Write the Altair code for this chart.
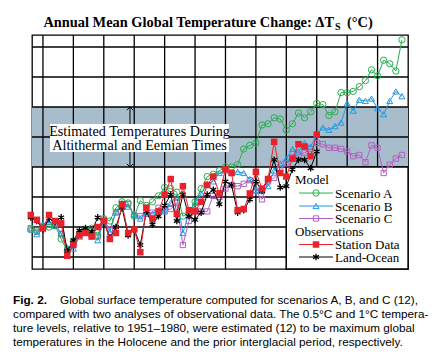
import altair as alt
import pandas as pd

# ---------------- data ----------------
model_years = list(range(1958, 2020))
obs_years = list(range(1958, 2006))

scenario_a = [-0.02, -0.03, 0.00, 0.00, 0.01, -0.10, -0.20, -0.12, -0.05, -0.02, -0.01, -0.07,
              0.07, 0.05, 0.16, 0.21, 0.20, 0.09, 0.22, 0.18, 0.21, 0.26,
              0.33, 0.32, 0.29, 0.09, 0.12, 0.21, 0.32, 0.42, 0.44, 0.47,
              0.50, 0.50, 0.52, 0.65, 0.68, 0.70, 0.85, 0.86, 0.91, 0.90,
              0.81, 0.86, 0.95, 0.91, 0.96, 1.03, 1.02, 0.93, 0.96, 1.12,
              1.12, 1.13, 1.17, 1.22, 1.31, 1.26, 1.39, 1.36, 1.30, 1.56]
scenario_b = [-0.02, -0.06, 0.02, 0.04, 0.01, -0.05, -0.17, -0.18, -0.08, -0.04, -0.06, -0.11,
              0.05, -0.04, 0.13, 0.20, 0.17, 0.11, 0.07, 0.12, 0.11, 0.14,
              0.13, 0.20, 0.25, -0.05, 0.12, 0.20, 0.28, 0.36, 0.38, 0.45,
              0.47, 0.45, 0.46, 0.45, 0.40, 0.31, 0.30, 0.34, 0.47, 0.53,
              0.57, 0.65, 0.63, 0.70, 0.67, 0.77, 0.83, 0.81, 0.84, 0.87,
              1.03, 0.97, 1.06, 1.05, 1.07, 0.99, 0.94, 1.05, 1.13, 1.09]
scenario_c = [-0.01, -0.04, 0.01, 0.02, 0.03, -0.06, -0.19, -0.14, -0.06, -0.03, -0.05, -0.08,
              0.06, -0.02, 0.12, 0.18, 0.19, 0.10, 0.09, 0.11, 0.12, 0.16,
              0.14, 0.15, 0.20, -0.15, 0.05, 0.14, 0.13, 0.13, 0.26, 0.25,
              0.32, 0.35, 0.34, 0.36, 0.39, 0.30, 0.23, 0.38, 0.41, 0.48,
              0.53, 0.58, 0.60, 0.62, 0.65, 0.70, 0.69, 0.66, 0.66, 0.65,
              0.63, 0.59, 0.60, 0.54, 0.68, 0.66, 0.45, 0.52, 0.57, 0.60]
station_data = [0.10, 0.06, -0.01, 0.10, 0.05, 0.03, -0.24, -0.15, -0.07, -0.05, -0.08, 0.00,
                0.05, -0.10, -0.05, 0.19, -0.05, -0.02, -0.21, 0.16, 0.07, 0.13,
                0.27, 0.40, 0.11, 0.34, 0.14, 0.13, 0.21, 0.35, 0.42, 0.28,
                0.48, 0.45, 0.14, 0.15, 0.28, 0.46, 0.32, 0.40, 0.71, 0.45,
                0.42, 0.57, 0.69, 0.67, 0.59, 0.77]
land_ocean = [0.08, 0.05, -0.02, 0.07, 0.04, 0.08, -0.20, -0.11, -0.03, -0.01, -0.04, 0.08,
              0.04, -0.09, 0.00, 0.16, -0.07, -0.02, -0.15, 0.13, 0.02, 0.09,
              0.18, 0.27, 0.05, 0.27, 0.09, 0.06, 0.12, 0.27, 0.31, 0.19,
              0.38, 0.35, 0.12, 0.14, 0.23, 0.38, 0.30, 0.40, 0.56, 0.33,
              0.34, 0.48, 0.56, 0.56, 0.49, 0.63]

x_grid = [1960, 1965, 1970, 1975, 1980, 1985, 1990, 1995, 2000, 2005, 2010, 2015]
y_grid = [-0.25, 0.0, 0.25, 0.5, 0.75, 1.0, 1.25, 1.5]
x_labels = [1960, 1970, 1980, 1990, 2000, 2010, 2020]
y_labels = [0.0, 0.5, 1.0, 1.5]

band = {"lo": [0.5], "hi": [1.0]}
arrow = {"year": [1974.3], "lo": [0.5], "hi": [1.0]}
legend_region = {"x0": [2000], "x1": [2020], "top": [0.5], "bottom": [-0.35]}

title_main = "Annual Mean Global Temperature Change: \u0394T"
title_sub = "S"
title_tail = "(\u00b0C)"
box_lines = ["Estimated Temperatures During", "Altithermal and Eemian Times"]
caption_bold = "Fig. 2."
caption_lines = [
    "Global surface temperature computed for scenarios A, B, and C (12),",
    "compared with two analyses of observational data. The 0.5\u00b0C and 1\u00b0C tempera-",
    "ture levels, relative to 1951\u20131980, were estimated (12) to be maximum global",
    "temperatures in the Holocene and the prior interglacial period, respectively.",
]

# ---------------- styling ----------------
W, H = 376, 234
SERIF = "Liberation Serif"
SANS = "Liberation Sans"
GREEN = "#2aae4f"
BLUE = "#1e9be3"
PURPLE = "#b45fc4"
RED = "#e8212a"
BAND = "#a8bdcb"
ASTERISK = "M0,-1L0,1M-0.87,-0.5L0.87,0.5M-0.87,0.5L0.87,-0.5"

xs = alt.Scale(domain=[1958.2, 2020], nice=False, zero=False)
ys = alt.Scale(domain=[-0.35, 1.6], nice=False, zero=False)
one = pd.DataFrame({"k": [0]})


def txt(text, x, y, size, font=SERIF, weight="normal", align="left", baseline="middle"):
    return alt.Chart(one).mark_text(
        text=text, font=font, fontSize=size, fontWeight=weight, align=align,
        baseline=baseline, color="black"
    ).encode(x=alt.value(x), y=alt.value(y))


# band
band_layer = alt.Chart(pd.DataFrame(band)).mark_rect(color=BAND, opacity=1).encode(
    x=alt.value(0), x2=alt.value(W),
    y=alt.Y("hi:Q", scale=ys, axis=None), y2="lo:Q")

# grid + axes
vgrid = alt.Chart(pd.DataFrame({"year": x_grid})).mark_rule(color="black", strokeWidth=1.3).encode(
    x=alt.X("year:Q", scale=xs, axis=alt.Axis(
        values=x_labels, format="d", title=None, grid=False, ticks=False, domain=False,
        labelFont=SERIF, labelFontSize=12.5, labelColor="black", labelPadding=3,
        labelOverlap=False, labelFlush=False)))
hgrid = alt.Chart(pd.DataFrame({"t": y_grid})).mark_rule(color="black", strokeWidth=1.3).encode(
    y=alt.Y("t:Q", scale=ys, axis=alt.Axis(
        values=y_labels, title=None, grid=False, ticks=False, domain=False,
        labelExpr="datum.value == 0 ? '.0' : datum.value == 0.5 ? '.5' : datum.value == 1 ? '1.0' : '1.5'",
        labelFont=SERIF, labelFontSize=12.5, labelColor="black", labelPadding=5,
        labelFlush=False)))

legend_box = alt.Chart(pd.DataFrame(legend_region)).mark_rect(
    fill="white", stroke="black", strokeWidth=1.3, opacity=1).encode(
    x=alt.X("x0:Q", scale=xs, axis=None), x2="x1:Q",
    y=alt.Y("top:Q", scale=ys, axis=None), y2="bottom:Q")

adf = pd.DataFrame(arrow)
arrow_rule = alt.Chart(adf).mark_rule(color="black", strokeWidth=1).encode(
    x=alt.X("year:Q", scale=xs, axis=None), y=alt.Y("hi:Q", scale=ys, axis=None), y2="lo:Q")
arrow_top = alt.Chart(adf).mark_point(shape="M-1,1L0,0L1,1", filled=False, color="black",
                                      size=40, strokeWidth=1, opacity=1).encode(
    x=alt.X("year:Q", scale=xs, axis=None), y=alt.Y("hi:Q", scale=ys, axis=None))
arrow_bot = alt.Chart(adf).mark_point(shape="M-1,-1L0,0L1,-1", filled=False, color="black",
                                      size=40, strokeWidth=1, opacity=1).encode(
    x=alt.X("year:Q", scale=xs, axis=None), y=alt.Y("lo:Q", scale=ys, axis=None))

text_box = alt.Chart(one).mark_rect(fill="white", opacity=1).encode(
    x=alt.value(18), x2=alt.value(197), y=alt.value(89), y2=alt.value(117))
box_t1 = txt(box_lines[0], 107.5, 96.5, 14.2, align="center")
box_t2 = txt(box_lines[1], 107.5, 111, 14.2, align="center")


def series(years, vals, color, shape, filled, size, sw=1.0):
    df = pd.DataFrame({"year": years, "t": vals})
    base = alt.Chart(df).encode(x=alt.X("year:Q", scale=xs, axis=None),
                                y=alt.Y("t:Q", scale=ys, axis=None))
    ln = base.mark_line(color=color, strokeWidth=1)
    pt = base.mark_point(shape=shape, filled=filled, color=color, size=size,
                         strokeWidth=sw, opacity=1)
    return [ln, pt]


data_layers = []
data_layers += series(model_years, scenario_c, PURPLE, "square", False, 28)
data_layers += series(model_years, scenario_b, BLUE, "triangle-up", False, 36)
data_layers += series(model_years, scenario_a, GREEN, "circle", False, 40)
data_layers += series(obs_years, land_ocean, "black", ASTERISK, False, 45, 1.3)
data_layers += series(obs_years, station_data, RED, "square", True, 42)

LFS = 13


def legend_item(y, color, shape, filled, size, label, sw=1.0):
    ln = alt.Chart(one).mark_rule(color=color, strokeWidth=1).encode(
        x=alt.value(267), x2=alt.value(301), y=alt.value(y))
    pt = alt.Chart(one).mark_point(shape=shape, filled=filled, color=color, size=size,
                                   strokeWidth=sw, opacity=1).encode(
        x=alt.value(284), y=alt.value(y))
    return [ln, pt, txt(label, 303, y + 0.5, LFS)]


legend_layers = [txt("Model", 263, 144.5, LFS)]
legend_layers += legend_item(158, GREEN, "circle", False, 40, "Scenario A")
legend_layers += legend_item(171, BLUE, "triangle-up", False, 36, "Scenario B")
legend_layers += legend_item(183.5, PURPLE, "square", False, 28, "Scenario C")
legend_layers += [txt("Observations", 263, 196.5, LFS)]
legend_layers += legend_item(209.5, RED, "square", True, 42, "Station Data")
legend_layers += legend_item(222, "black", ASTERISK, False, 45, "Land-Ocean", 1.3)

title_layers = [
    txt(title_main, 302, -8, 14.4, weight="bold", align="right", baseline="alphabetic"),
    txt(title_sub, 303, -5.5, 10, weight="bold", baseline="alphabetic"),
    txt(title_tail, 315, -8, 14.4, weight="bold", baseline="alphabetic"),
]

CFS = 11.75
caption_layers = [txt(caption_bold, -19, 269, CFS, font=SANS, weight="bold", baseline="alphabetic"),
                  txt(caption_lines[0], 28, 269, CFS, font=SANS, baseline="alphabetic")]
for i, line in enumerate(caption_lines[1:]):
    caption_layers.append(txt(line, -19, 283 + 14 * i, CFS, font=SANS, baseline="alphabetic"))

chart = alt.layer(
    band_layer, vgrid, hgrid, legend_box, arrow_rule, arrow_top, arrow_bot,
    text_box, box_t1, box_t2,
    *data_layers, *legend_layers, *title_layers, *caption_layers
).properties(
    width=W, height=H,
    autosize=alt.AutoSizeParams(type="none"),
    padding={"left": 24, "top": 27, "right": 23, "bottom": 81},
).configure_view(stroke="black", strokeWidth=1.3)

chart.save("out.html", embed_options={"renderer": "svg", "actions": False})
